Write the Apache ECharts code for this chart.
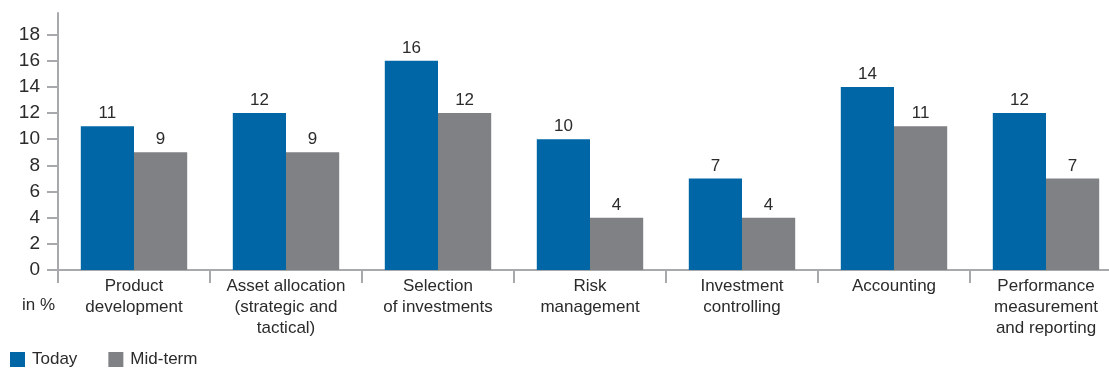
<!DOCTYPE html>
<html>
<head>
<meta charset="utf-8">
<title>Today vs Mid-term</title>
<script src="https://cdn.jsdelivr.net/npm/echarts@6/dist/echarts.min.js"></script>
<style>
  html, body { margin: 0; padding: 0; background: #fff; }
  #chart { width: 1109px; height: 370px; }
</style>
</head>
<body>
<div id="chart"></div>
<script>
// Areas of activity
const categories = [
  'Product\ndevelopment',
  'Asset allocation\n(strategic and\ntactical)',
  'Selection\nof investments',
  'Risk\nmanagement',
  'Investment\ncontrolling',
  'Accounting',
  'Performance\nmeasurement\nand reporting'
];

// Shares in %
const todayValues   = [11, 12, 16, 10, 7, 14, 12];
const midTermValues = [9, 9, 12, 4, 4, 11, 7];

// Value-axis tick labels
const yTicks = [0, 2, 4, 6, 8, 10, 12, 14, 16, 18];

const FONT = "'Liberation Sans', Arial, sans-serif";
const TEXT = '#2b2b2b';
const AXIS = '#a7a9ac';
const BLUE = '#0066a6';
const GREY = '#808184';

const chart = echarts.init(document.getElementById('chart'), null, { renderer: 'canvas' });

const valueLabel = {
  show: true,
  position: 'top',
  distance: 4,
  color: TEXT,
  fontFamily: FONT,
  fontSize: 17
};

chart.setOption({
  animation: false,
  textStyle: { fontFamily: FONT },
  // the last category runs past the right edge of the canvas
  grid: { left: 58, top: 13, right: -13, height: 257, containLabel: false, outerBoundsMode: 'none' },
  legend: {
    left: 5,
    top: 346,
    icon: 'rect',
    itemWidth: 15,
    itemHeight: 15,
    itemGap: 31,
    textStyle: { color: TEXT, fontFamily: FONT, fontSize: 17, padding: [0, 0, 0, 2] },
    data: ['Today', 'Mid-term']
  },
  xAxis: {
    type: 'category',
    data: categories,
    boundaryGap: true,
    axisLine: { show: true, lineStyle: { color: AXIS, width: 2 } },
    axisTick: { show: true, interval: 0, length: 13, lineStyle: { color: AXIS, width: 2 } },
    axisLabel: {
      interval: 0,
      margin: 6,
      color: TEXT,
      fontFamily: FONT,
      fontSize: 17,
      lineHeight: 21
    }
  },
  yAxis: {
    type: 'value',
    min: 0,
    max: 19.65,
    splitLine: { show: false },
    axisLine: { show: true, lineStyle: { color: AXIS, width: 2 } },
    axisTick: { show: true, length: 11, customValues: yTicks, lineStyle: { color: AXIS, width: 2 } },
    axisLabel: {
      customValues: yTicks,
      margin: 18,
      color: TEXT,
      fontFamily: FONT,
      fontSize: 19
    }
  },
  graphic: [{
    type: 'text',
    left: 22,
    top: 297,
    style: { text: 'in %', fill: TEXT, font: '17px ' + FONT }
  }],
  series: [
    {
      name: 'Today',
      type: 'bar',
      data: todayValues,
      itemStyle: { color: BLUE },
      barGap: '0%',
      barCategoryGap: '30%',
      label: valueLabel
    },
    {
      name: 'Mid-term',
      type: 'bar',
      data: midTermValues,
      itemStyle: { color: GREY },
      barGap: '0%',
      barCategoryGap: '30%',
      label: valueLabel
    }
  ]
});
</script>
</body>
</html>
